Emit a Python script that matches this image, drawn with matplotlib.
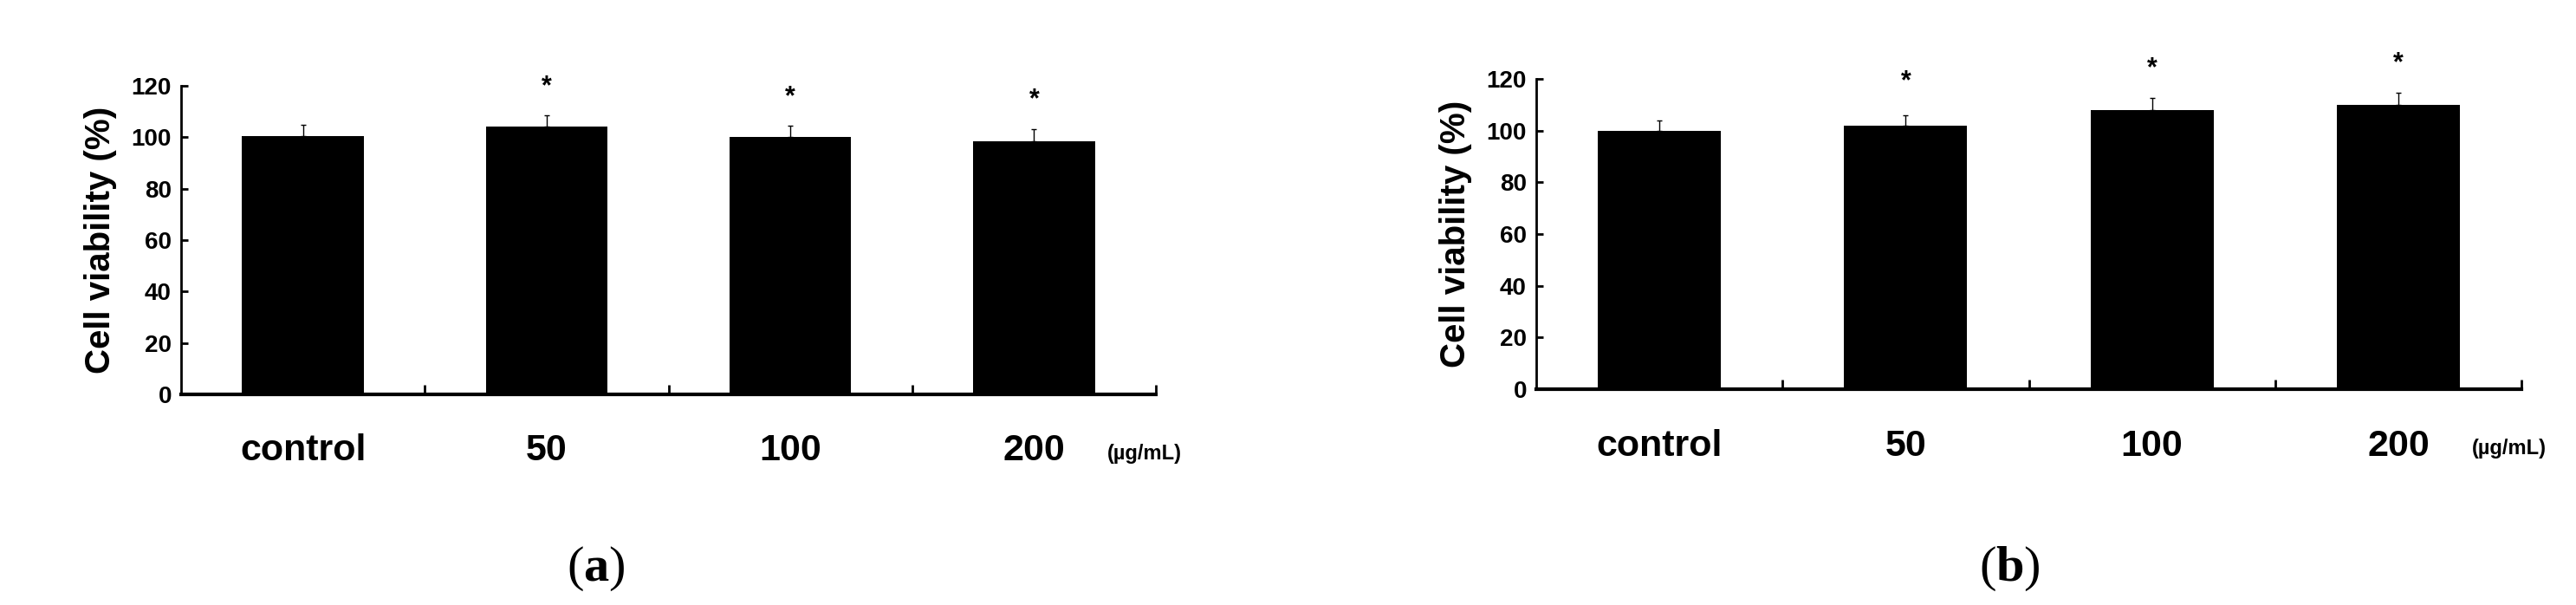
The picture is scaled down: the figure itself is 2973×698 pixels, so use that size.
import numpy as np
import matplotlib
matplotlib.use("Agg")
import matplotlib.pyplot as plt

categories = ["control", "50", "100", "200"]
values_a = [100.5, 104.0, 100.0, 98.5]
errors_a = [4.5, 4.5, 4.5, 4.5]
stars_a = [None, 119.5, 115.5, 114.5]
values_b = [100.0, 102.0, 108.0, 110.0]
errors_b = [4.0, 4.0, 4.5, 4.5]
stars_b = [None, 119.0, 124.0, 126.0]
yticks = [0, 20, 40, 60, 80, 100, 120]

plt.rcParams["mathtext.fontset"] = "custom"
plt.rcParams["mathtext.rm"] = "Liberation Serif"
plt.rcParams["mathtext.bf"] = "Liberation Serif:bold"

W, H = 2973, 698
fig = plt.figure(figsize=(W / 100, H / 100), dpi=100)
sans = "Liberation Sans"


def panel(rect, vals, errs, stars, tag, tag_x):
    ax = fig.add_axes(rect)
    x = np.arange(len(vals)) + 0.5
    ax.bar(x, vals, width=0.5, color="black")
    ax.errorbar(x, vals, yerr=[np.zeros(len(errs)), errs], fmt="none",
                ecolor="black", elinewidth=1, capsize=2)
    for xi, s in zip(x, stars):
        if s is not None:
            ax.text(xi, s, "*", ha="center", va="center", fontsize=22,
                    fontweight="bold", family=sans, clip_on=False)
    ax.set_xlim(0, 4)
    ax.set_ylim(0, 120)
    ax.set_yticks(yticks)
    ax.set_yticklabels([str(t) for t in yticks], fontsize=20,
                       fontweight="bold", family=sans)
    ax.set_xticks([1, 2, 3, 4])
    ax.set_xticklabels([])
    for xi, c in zip(x, categories):
        ax.text(xi, -22, c, ha="center", va="center", fontsize=31,
                fontweight="bold", family=sans, clip_on=False)
    ax.text(3.8, -23, "(µg/mL)", ha="left", va="center", fontsize=17,
            fontweight="bold", family=sans, clip_on=False)
    ax.tick_params(axis="x", direction="in", length=8, width=2)
    ax.tick_params(axis="y", direction="in", length=6, width=2, pad=8)
    for s in ["top", "right"]:
        ax.spines[s].set_visible(False)
    ax.spines["left"].set_linewidth(2)
    ax.spines["bottom"].set_linewidth(3)
    ax.set_ylabel("Cell viability (%)", fontsize=29, fontweight="bold",
                  family=sans, labelpad=12)
    fig.text(tag_x, 1 - 655 / H, r"$\mathrm{(}\mathbf{" + tag + r"}\mathrm{)}$",
             ha="center", va="center", fontsize=42)
    return ax


axa = panel([209 / W, 1 - 455 / H, 1125 / W, 356 / H],
            values_a, errors_a, stars_a, "a", 688 / W)
axb = panel([1773 / W, 1 - 449 / H, 1137 / W, 358 / H],
            values_b, errors_b, stars_b, "b", 2319 / W)

fig.savefig("out.png", dpi=100)
